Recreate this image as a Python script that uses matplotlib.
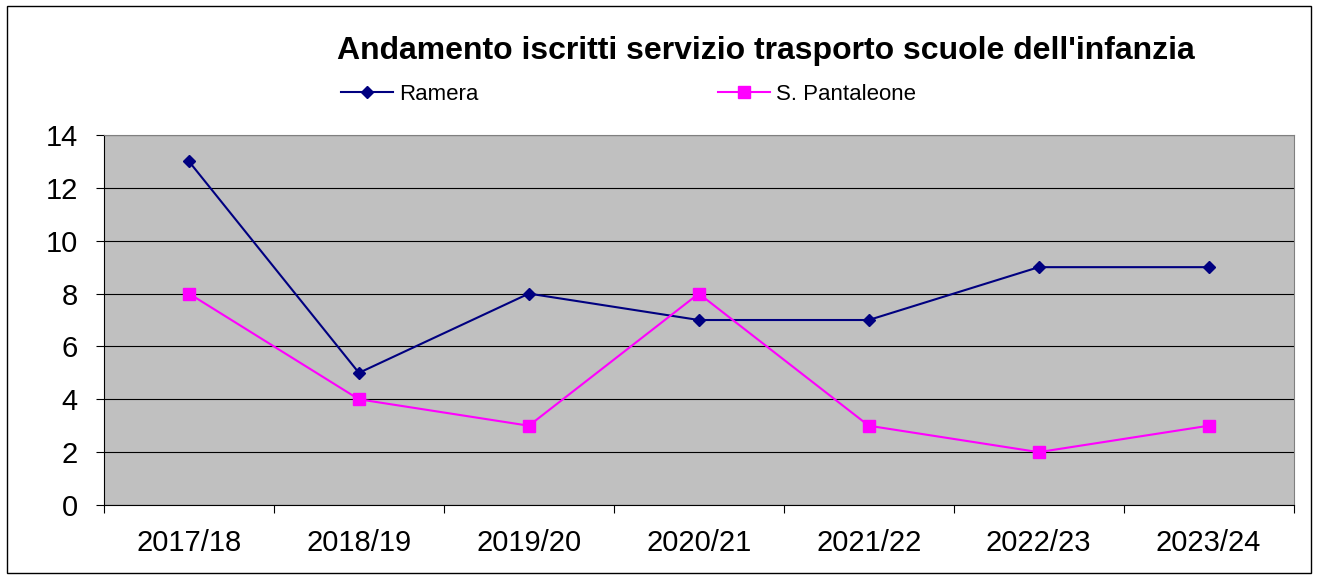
import matplotlib.pyplot as plt
import numpy as np
from matplotlib.patches import Rectangle

years = ["2017/18", "2018/19", "2019/20", "2020/21", "2021/22", "2022/23", "2023/24"]
ramera = [13, 5, 8, 7, 7, 9, 9]
pantaleone = [8, 4, 3, 8, 3, 2, 3]

plt.rcParams["font.family"] = ["Liberation Sans", "DejaVu Sans"]

fig = plt.figure(figsize=(13.2, 5.81), dpi=100)
ax = fig.add_axes([0.0788, 0.1308, 0.9012, 0.6368])
ax.set_facecolor("#C0C0C0")

x = np.arange(len(years))
ax.plot(x, ramera, color="#000080", marker="D", markersize=6, linewidth=1.5, label="Ramera")
ax.plot(x, pantaleone, color="#FF00FF", marker="s", markersize=8, linewidth=1.5, label="S. Pantaleone")

ax.set_xlim(-0.5, len(years) - 0.5)
ax.set_ylim(0, 14)
ax.set_yticks(range(0, 15, 2))
ax.yaxis.grid(True, color="black", linewidth=0.8)
ax.set_axisbelow(True)

# category labels centred, tick marks at the borders
ax.set_xticks(np.arange(-0.5, len(years)), minor=False)
ax.set_xticklabels([])
ax.set_xticks(x, minor=True)
ax.set_xticklabels(years, minor=True, fontsize=21)
ax.tick_params(axis="x", which="minor", length=0, pad=17)
ax.tick_params(axis="x", which="major", length=6, direction="out", color="black")
ax.tick_params(axis="y", length=6, direction="out", labelsize=21, pad=13)

for s in ["top", "right"]:
    ax.spines[s].set_color("#808080")
for s in ["left", "bottom"]:
    ax.spines[s].set_color("black")

fig.text(0.58, 0.913, "Andamento iscritti servizio trasporto scuole dell'infanzia",
         ha="center", va="center", fontsize=23, fontweight="bold")

fig.legend(loc="center left", bbox_to_anchor=(0.243, 0.837), ncol=2, frameon=False,
           fontsize=16, handlelength=2.34, handletextpad=0.27, columnspacing=10.8)

fig.patches.append(Rectangle((0.005, 0.013), 0.988, 0.977, transform=fig.transFigure,
                             fill=False, edgecolor="black", linewidth=1))

fig.savefig("out.png", dpi=100)
